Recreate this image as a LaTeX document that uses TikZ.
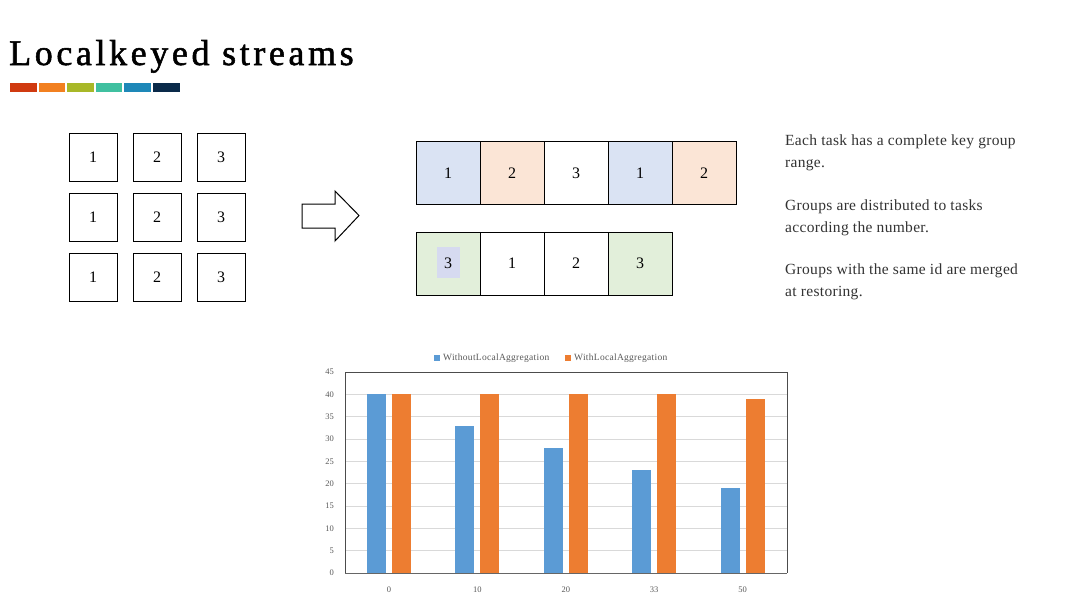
\documentclass[tikz,border=0pt]{standalone}
\usepackage{fontspec}
\setmainfont{Liberation Serif}
\setsansfont{Liberation Sans}
\definecolor{c1}{HTML}{D03A10}
\definecolor{c2}{HTML}{F28020}
\definecolor{c3}{HTML}{A8B828}
\definecolor{c4}{HTML}{40C0A0}
\definecolor{c5}{HTML}{1E88B8}
\definecolor{c6}{HTML}{0A2A4A}
\definecolor{kblue}{HTML}{DAE3F3}
\definecolor{kpeach}{HTML}{FBE5D6}
\definecolor{kgreen}{HTML}{E2EFDA}
\definecolor{klav}{HTML}{D6DAF0}
\definecolor{barblue}{HTML}{5B9BD5}
\definecolor{barorange}{HTML}{ED7D31}
\definecolor{gridgray}{HTML}{D9D9D9}
\definecolor{labgray}{HTML}{595959}
\tikzset{
  x=1pt,y=-1pt,
  sqbox/.style={draw=black,line width=1pt,minimum width=48pt,minimum height=48pt,inner sep=0pt,font=\fontsize{16}{16}\selectfont},
  keybox/.style={draw=black,line width=1pt,minimum width=64pt,minimum height=63pt,inner sep=0pt,font=\fontsize{16}{16}\selectfont},
  bartick/.style={font=\fontsize{8.5}{8.5}\selectfont,text=labgray,inner sep=1pt},
  para/.style={anchor=north west,align=left,inner sep=0pt,font=\fontsize{15.5}{22}\selectfont\addfontfeatures{LetterSpace=2},text=black!80}
}
\begin{document}
\begin{tikzpicture}
\useasboundingbox[fill=white] (0,0) rectangle (1080,608);
% title
\node[anchor=base west,inner sep=0pt,font=\fontsize{36}{36}\selectfont\addfontfeatures{LetterSpace=10,FakeBold=1.5}] (title) at (9,65) {Localkeyed streams};
% colour bar
\foreach \i/\c in {0/c1,1/c2,2/c3,3/c4,4/c5,5/c6}{
  \fill[\c] (10+\i*28.6,83) rectangle ++(26.5,9);
}
% grid of boxes
\foreach \r in {0,1,2}{
  \foreach \cidx/\lab in {0/1,1/2,2/3}{
    \node[sqbox] (g\r\cidx) at (93+\cidx*64,157+\r*60) {\lab};
  }
}
% block arrow
\draw[line width=1pt,fill=white,line join=miter] (302,204) -- (335,204) -- (335,191) -- (359,215.5) -- (335,241) -- (335,228) -- (302,228) -- cycle;
% top row
\node[keybox,fill=kblue] (t1) at (448,173) {1};
\node[keybox,fill=kpeach] (t2) at (512,173) {2};
\node[keybox,fill=white] (t3) at (576,173) {3};
\node[keybox,fill=kblue] (t4) at (640,173) {1};
\node[keybox,fill=kpeach] (t5) at (704,173) {2};
% bottom row
\node[keybox,fill=kgreen] (b1) at (448,263.5) {};
\fill[klav] (437,247) rectangle (460,278);
\node[font=\fontsize{16}{16}\selectfont,inner sep=0pt] (b1l) at (448,263.5) {3};
\node[keybox,fill=white] (b2) at (512,263.5) {1};
\node[keybox,fill=white] (b3) at (576,263.5) {2};
\node[keybox,fill=kgreen] (b4) at (640,263.5) {3};
% paragraphs
\node[para] (p1) at (785,135) {Each task has a complete key group\\range.};
\node[para] (p2) at (785,200) {Groups are distributed to tasks\\according the number.};
\node[para] (p3) at (785,264) {Groups with the same id are merged\\at restoring.};
% chart
\foreach \v in {5,10,...,40}{
  \draw[gridgray,line width=0.6pt] (345,{573-\v*4.467}) -- (787,{573-\v*4.467});
}
\foreach \v in {0,5,...,45}{
  \node[bartick,anchor=east] (yl\v) at (335,{573-\v*4.467}) {\v};
}
\foreach \i/\lab/\bv/\ov in {0/0/40/40,1/10/33/40,2/20/28/40,3/33/23/40,4/50/19/39}{
  \fill[barblue] ({389+\i*88.4-22},573) rectangle ({389+\i*88.4-3},{573-\bv*4.467});
  \fill[barorange] ({389+\i*88.4+3},573) rectangle ({389+\i*88.4+22},{573-\ov*4.467});
  \node[bartick] (xl\i) at ({389+\i*88.4},590) {\lab};
}
\draw[black!70,line width=0.8pt] (345,573) -- (345,372.5) -- (787,372.5) -- (787,573);
\draw[black!60,line width=0.8pt] (345,573) -- (787,573);
% legend
\fill[barblue] (434,355) rectangle (440,361);
\node[bartick,anchor=west,font=\fontsize{9.5}{9.5}\selectfont\addfontfeatures{LetterSpace=3}] (lg1) at (442,358) {WithoutLocalAggregation};
\fill[barorange] (565,355) rectangle (571,361);
\node[bartick,anchor=west,font=\fontsize{9.5}{9.5}\selectfont\addfontfeatures{LetterSpace=3}] (lg2) at (573,358) {WithLocalAggregation};
\end{tikzpicture}
\end{document}
